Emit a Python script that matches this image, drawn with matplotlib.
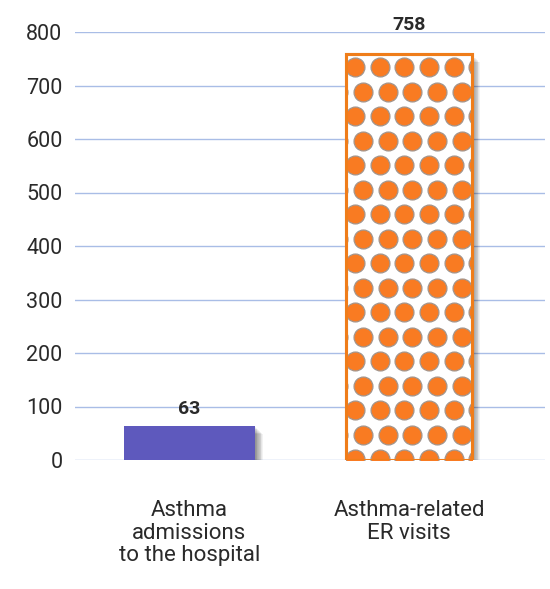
import numpy as np
import matplotlib

matplotlib.use("Agg")
import matplotlib.pyplot as plt
from matplotlib.patches import Rectangle
from matplotlib.transforms import offset_copy

categories = ["Asthma\nadmissions\nto the hospital", "Asthma-related\nER visits"]
values = [63, 758]
yticks = [0, 100, 200, 300, 400, 500, 600, 700, 800]

plt.rcParams["font.family"] = ["Roboto", "DejaVu Sans"]

W, H = 550, 589
fig = plt.figure(figsize=(W / 100, H / 100), dpi=100)
ax = fig.add_axes([75 / W, (H - 460) / H, 470 / W, 428 / H])

ax.set_xlim(-0.5216, 1.6196)
ax.set_ylim(0, 800)
for s in ax.spines.values():
    s.set_visible(False)
ax.set_yticks(yticks)
ax.set_yticklabels([str(t) for t in yticks], fontsize=15.5, color="#2a2a2a")
ax.tick_params(axis="y", length=0, pad=9)
ax.set_xticks([])
for t in yticks:
    ax.axhline(t, color="#a9bde6", lw=1.0, zorder=0)

x = np.arange(len(values))
widths = [0.597, 0.574]
fills = ["#5e59bd", "white"]
edges = ["none", "#ef7d1a"]

bars = []
for i in range(len(values)):
    # soft drop shadow
    for k in range(1, 11):
        tr = offset_copy(ax.transData, fig=fig, x=k * 0.8, y=-k * 0.8, units="dots")
        ax.add_patch(Rectangle((x[i] - widths[i] / 2, 0), widths[i], values[i],
                               transform=tr, facecolor="black", edgecolor="none",
                               alpha=0.05, zorder=1))
    b = Rectangle((x[i] - widths[i] / 2, 0), widths[i], values[i],
                  facecolor=fills[i], edgecolor=edges[i], linewidth=2.2, zorder=2)
    ax.add_patch(b)
    bars.append(b)

# dot pattern inside the second bar
fig.canvas.draw()
b = bars[1]
(x0, y0), (x1, y1) = ax.transData.transform([(b.get_x(), 0), (b.get_x() + b.get_width(), b.get_height())])
pts = []
row = 0
yy = y1 - 13
while yy > y0 - 15:
    shift = 9 if row % 2 == 0 else 17
    xx = x0 + shift - 24.7
    while xx < x1 + 15:
        pts.append((xx, yy))
        xx += 24.7
    yy -= 24.5
    row += 1
pts = ax.transData.inverted().transform(np.array(pts))
sc = ax.scatter(pts[:, 0], pts[:, 1], s=185, color="#f97b22", edgecolors="#a3958c",
                linewidths=0.9, zorder=3)
sc.set_clip_path(b)
ax.add_patch(Rectangle((b.get_x(), 0), b.get_width(), b.get_height(), facecolor="none",
                       edgecolor="#ef7d1a", linewidth=2.2, zorder=4))

offsets = [8, 20]
for i, v in enumerate(values):
    ax.annotate(str(v), (x[i], v), xytext=(0, offsets[i]), textcoords="offset pixels",
                ha="center", va="bottom", fontsize=14, fontweight="bold", color="#2a2a2a",
                annotation_clip=False)

for i, c in enumerate(categories):
    ax.annotate(c, (x[i], 0), xytext=(0, -40), textcoords="offset pixels",
                ha="center", va="top", fontsize=16, color="#2a2a2a", linespacing=1.1,
                annotation_clip=False)

fig.savefig("out.png", dpi=100, facecolor="white")
